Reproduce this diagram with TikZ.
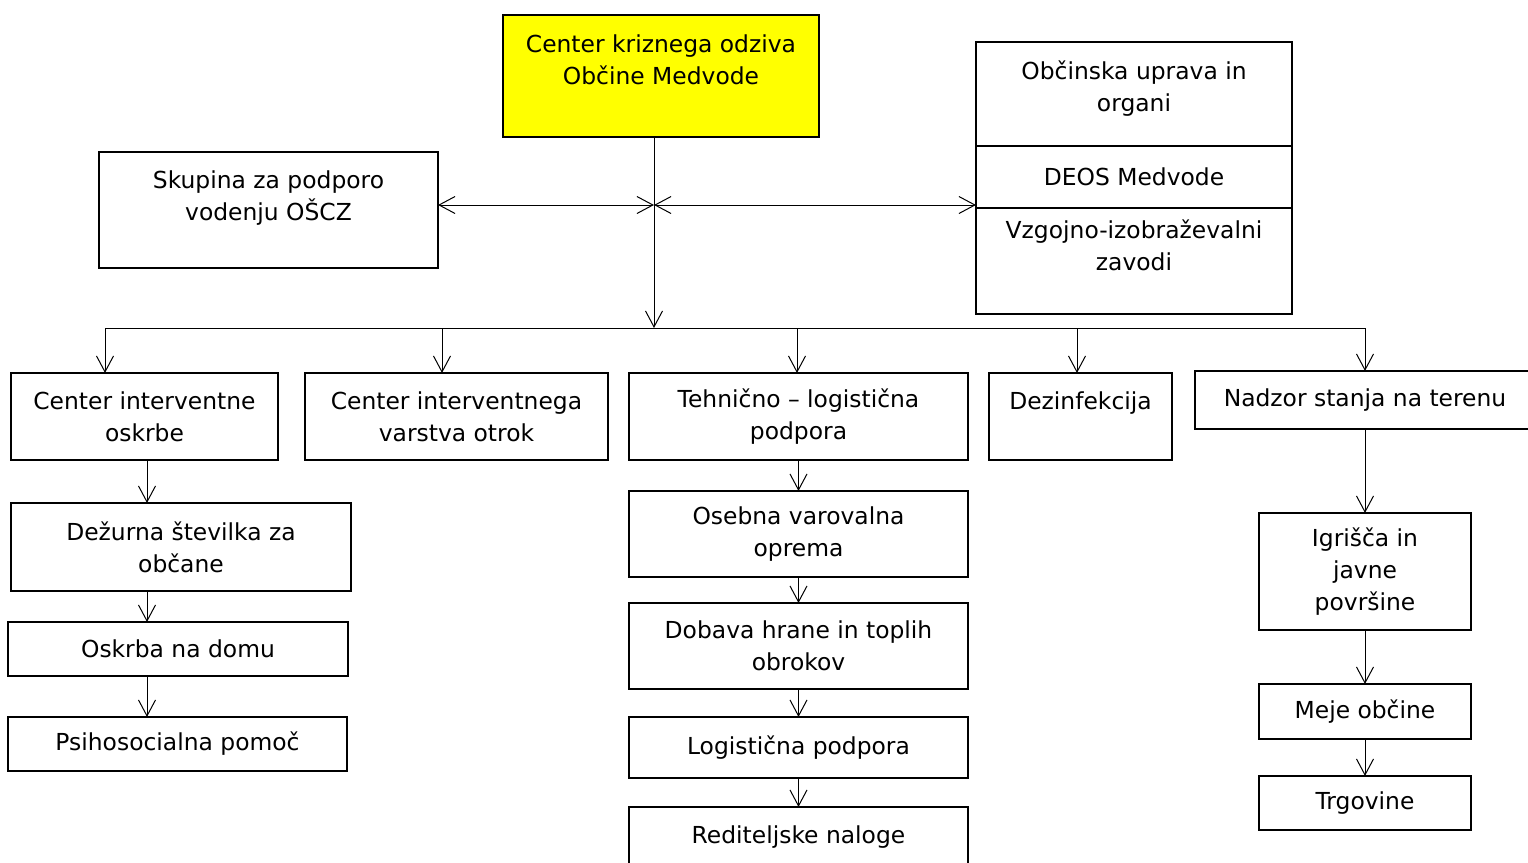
\documentclass[tikz,border=0pt]{standalone}
\usepackage{fontspec}
\setmainfont{DejaVu Sans}
\usetikzlibrary{arrows.meta,positioning}
\definecolor{crisis}{RGB}{255,255,0}

\begin{document}
\begin{tikzpicture}[x=0.5pt, y=-0.5pt,
                    box/.style={draw=black, line width=1.1pt, anchor=north west, align=center,
                                inner sep=0pt, outer sep=0pt, font=\fontsize{11.7}{16}\selectfont},
                    link/.style={draw=black, line width=0.5pt},
                    >={Straight Barb[length=8pt,width=8.5pt]}]
\useasboundingbox (0,0) rectangle (1528,863);

% top level
\node[box, fill=crisis, minimum width=158pt, minimum height=61pt] (krizni) at (503,15) {Center kriznega odziva\\Občine Medvode\\[-4pt] \strut};
\node[box, minimum width=169.5pt, minimum height=58pt] (skupina) at (99,152) {Skupina za podporo\\vodenju OŠCZ\\[-6pt] \strut};
\node[box, minimum width=158pt, minimum height=52pt] (uprava) at (976,42) {Občinska uprava in\\organi\\[-13pt] \strut};
\node[box, minimum width=158pt, minimum height=31pt, below=0pt of uprava] (deos) {DEOS Medvode};
\node[box, minimum width=158pt, minimum height=53pt, below=0pt of deos] (zavodi) {Vzgojno-izobraževalni\\zavodi\\[-5pt] \strut};

% second row
\node[box, minimum width=133.5pt, minimum height=43.5pt] (oskrba) at (11,373) {Center interventne\\oskrbe};
\node[box, minimum width=151.5pt, minimum height=43.5pt] (varstvo) at (305,373) {Center interventnega\\varstva otrok};
\node[box, minimum width=169.5pt, minimum height=43.5pt] (tehnicna) at (629,373) {Tehnično – logistična\\podpora};
\node[box, minimum width=91.5pt, minimum height=43.5pt] (dezinf) at (989,373) {Dezinfekcija\\[-5pt] \strut};
\node[box, minimum width=170pt, minimum height=29pt] (nadzor) at (1195,371) {Nadzor stanja na terenu};

% left column
\node[box, minimum width=170pt, minimum height=44pt] (dezurna) at (11,503) {Dežurna številka za\\občane};
\node[box, minimum width=170pt, minimum height=27pt] (domu) at (8,622) {Oskrba na domu};
\node[box, minimum width=169.5pt, minimum height=27pt] (psiho) at (8,717) {Psihosocialna pomoč};

% middle column
\node[box, minimum width=169.5pt, minimum height=43pt, below=15.5pt of tehnicna] (oprema) {Osebna varovalna\\oprema};
\node[box, minimum width=169.5pt, minimum height=43pt, below=13pt of oprema] (hrana) {Dobava hrane in toplih\\obrokov};
\node[box, minimum width=169.5pt, minimum height=30.5pt, below=14pt of hrana] (logist) {Logistična podpora};
\node[box, minimum width=169.5pt, minimum height=30pt, below=14.5pt of logist] (redit) {Rediteljske naloge};

% right column
\node[box, minimum width=106pt, minimum height=58.5pt, below=42pt of nadzor] (igrisca) {Igrišča in\\javne\\površine};
\node[box, minimum width=106pt, minimum height=27.5pt, below=27pt of igrisca] (meje) {Meje občine};
\node[box, minimum width=106pt, minimum height=27pt, below=18.5pt of meje] (trg) {Trgovine};

% branching points
\coordinate (hub) at (654,205);
\coordinate (bus) at (654,328);
\coordinate (b1) at (105,328);
\coordinate (b2) at (442,328);
\coordinate (b3) at (797,328);
\coordinate (b4) at (1077,328);
\coordinate (b5) at (1365,328);
\coordinate (lcol) at (147,0);

\path[link]
(hub |- krizni.south) edge[->] (bus)
(hub) edge[<->] (hub -| skupina.east)
(hub) edge[<->] (hub -| zavodi.west)
(b1) edge (b5)
(b1) edge[->] (b1 |- oskrba.north)
(b2) edge[->] (b2 |- varstvo.north)
(b3) edge[->] (b3 |- tehnicna.north)
(b4) edge[->] (b4 |- dezinf.north)
(b5) edge[->] (b5 |- nadzor.north)
(lcol |- oskrba.south) edge[->] (lcol |- dezurna.north)
(lcol |- dezurna.south) edge[->] (lcol |- domu.north)
(lcol |- domu.south) edge[->] (lcol |- psiho.north)
(tehnicna) edge[->] (oprema)
(oprema) edge[->] (hrana)
(hrana) edge[->] (logist)
(logist) edge[->] (redit)
(nadzor) edge[->] (igrisca)
(igrisca) edge[->] (meje)
(meje) edge[->] (trg);
\end{tikzpicture}
\end{document}
